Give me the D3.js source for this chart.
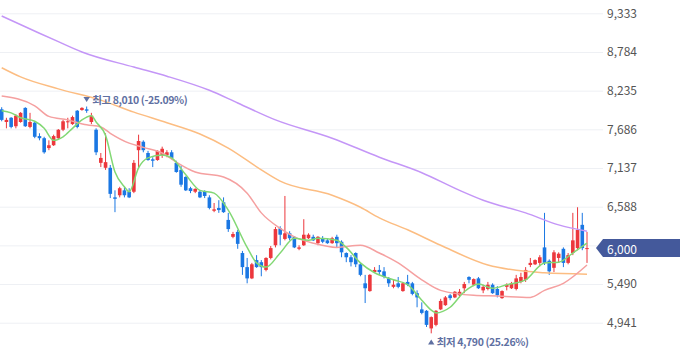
<!DOCTYPE html>
<html>
<head>
<meta charset="utf-8">
<script src="https://cdn.jsdelivr.net/npm/d3@7"></script>
<style>
html,body{margin:0;padding:0;background:#fff;}
svg{display:block;}
</style>
</head>
<body>
<svg id="chart" width="680" height="358"></svg>
<script>
// ---- data ----
const candleOpen = [7970,7790,7850,7730,7790,7990,7720,7780,7590,7560,7420,7460,7560,7680,7790,7760,7950,7960,7970,7790,
 7680,7210,7140,7140,6720,6750,6820,6800,6800,7390,7510,7350,7260,7250,7320,7320,7360,7210,7110,7010,
 6850,6800,6800,6810,6720,6530,6570,6650,6400,6160,6230,5930,5730,5570,5830,5800,5690,5860,6040,6280,
 6130,6210,6160,5990,6040,6140,6160,6070,6140,6110,6070,6160,6090,5930,5870,5930,5770,5500,5390,5660,
 5690,5670,5570,5450,5500,5390,5520,5500,5360,5130,5110,4860,4910,5130,5190,5330,5300,5330,5430,5590,
 5480,5570,5400,5420,5480,5420,5290,5450,5430,5420,5520,5550,5760,5770,5790,6010,5820,5720,5860,5990,
 5790,5930,6000,6330,5990];
const candleHigh = [8000,7850,7860,7900,7930,8000,7920,7790,7630,7580,7530,7610,7690,7820,7850,7880,7960,8000,8010,7920,
 7700,7350,7630,7180,6820,6870,6870,6850,7250,7610,7530,7380,7290,7390,7440,7390,7390,7240,7170,7020,
 6870,6850,6820,6820,6750,6640,6680,6720,6500,6230,6260,5960,5860,5790,5900,5830,5870,6030,6300,6310,
 6740,6240,6170,6040,6410,6210,6190,6170,6170,6140,6160,6190,6110,5940,5900,5940,5790,5620,5630,5730,
 5760,5730,5590,5550,5590,5520,5620,5520,5400,5230,5120,5030,5120,5280,5320,5350,5390,5420,5520,5600,
 5570,5590,5480,5520,5500,5460,5400,5500,5520,5620,5650,5730,5860,5840,5900,6500,5840,5970,5940,6010,
 5930,6500,6580,6500,6230];
const candleLow = [7800,7700,7700,7700,7780,7720,7700,7560,7530,7340,7390,7450,7550,7660,7700,7750,7700,7950,7920,7760,
 7320,7150,7110,6710,6510,6720,6720,6710,6780,7150,7360,7240,7150,7240,7280,7290,7260,7070,6870,6810,
 6780,6780,6710,6710,6550,6510,6500,6500,6230,6140,5990,5620,5500,5560,5720,5600,5670,5840,6010,6040,
 6110,6110,6000,5970,6030,6130,6100,6040,6070,6060,6060,6010,5870,5800,5740,5730,5600,5220,5380,5650,
 5620,5570,5450,5430,5430,5380,5460,5330,5160,5060,4880,4790,4890,5120,5180,5260,5290,5300,5360,5500,
 5460,5420,5360,5400,5350,5300,5280,5400,5420,5400,5500,5520,5730,5760,5740,5760,5620,5660,5790,5730,
 5770,5900,5970,5970,5790];
const candleClose = [7820,7820,7720,7880,7920,7730,7790,7580,7560,7360,7460,7590,7680,7800,7800,7860,7720,7990,7950,7880,
 7360,7280,7220,6770,6700,6850,6750,6720,7210,7520,7390,7250,7240,7380,7410,7360,7280,7080,6900,6820,
 6810,6840,6720,6740,6570,6550,6540,6510,6270,6200,6060,5730,5570,5770,5730,5730,5860,6000,6270,6190,
 6210,6140,6010,6010,6190,6190,6110,6160,6090,6070,6140,6070,5940,5870,5800,5770,5620,5430,5620,5690,
 5660,5590,5500,5480,5450,5500,5480,5350,5300,5080,4910,5020,5110,5250,5300,5290,5380,5380,5490,5550,
 5560,5430,5450,5480,5360,5330,5390,5480,5500,5570,5590,5690,5790,5830,5870,5790,5670,5940,5920,5790,
 5900,6110,6260,6000,6000];

// moving-average lines: [candle index, price]
const ma5 = [[0,7950],[2,7920],[4,7850],[7,7800],[9,7700],[11,7530],[13,7580],[15,7700],[17,7820],[19,7880],
 [20,7790],[22,7600],[24,7080],[26,6870],[27,6800],[29,7140],[31,7280],[34,7320],[36,7280],[39,7040],[42,6820],
 [45,6780],[48,6540],[52,6010],[54,5790],[56,5730],[59,5930],[62,6140],[65,6110],[67,6140],[71,6110],[73,6010],
 [76,5790],[79,5650],[83,5550],[86,5480],[89,5260],[91,5120],[92,5080],[95,5160],[98,5380],[101,5490],[104,5430],
 [107,5480],[111,5550],[115,5790],[118,5800],[121,5930],[124,6070]];
const ma20 = [[0,8160],[7,8020],[10,7870],[14,7820],[18,7750],[21,7720],[23,7630],[27,7490],[30,7430],[34,7350],
 [37,7220],[41,7080],[47,7010],[52,6780],[55,6500],[59,6280],[62,6160],[66,6070],[71,6010],[76,6040],[80,5930],
 [84,5790],[89,5550],[93,5400],[100,5330],[105,5320],[112,5300],[115,5400],[119,5500],[124,5760]];
const ma60 = [[0,8560],[4,8430],[12,8260],[21,8100],[28,7930],[35,7780],[42,7620],[48,7420],[55,7110],[59,6950],
 [70,6750],[76,6580],[80,6430],[86,6260],[93,6040],[103,5760],[111,5670],[115,5650],[124,5630]];
const ma120 = [[0,9295],[8,9050],[12,8930],[17,8784],[28,8570],[35,8440],[44,8240],[50,8060],[58,7820],[70,7560],
 [80,7290],[89,7070],[97,6820],[102,6680],[111,6500],[118,6330],[124,6240]];

const yTicks = [4941,5490,6039,6588,7137,7686,8235,8784,9333];
const currentPrice = 6000;
const highIdx = 18, highPrice = 8010, highLabel = "최고 8,010 (-25.09%)";
const lowIdx = 91, lowPrice = 4790, lowLabel = "최저 4,790 (25.26%)";

// ---- drawing ----
const svg = d3.select("#chart");
const W = 680, H = 358;
const plotRight = 603;
const x = d3.scaleLinear().domain([0, candleClose.length - 1]).range([1.7, 587]);
const y = d3.scaleLinear().domain([4941, 9333]).range([322.7, 13.3]);
const fmt = d3.format(",");
const font = "'Noto Sans CJK KR', 'Noto Sans', sans-serif";

// grid + right axis
const axis = d3.axisRight(y).tickValues(yTicks).tickSizeInner(-plotRight).tickSizeOuter(0).tickPadding(4)
  .tickFormat(d => Math.abs(y(d) - y(currentPrice)) < 12 ? "" : fmt(d));
const ag = svg.append("g").attr("transform", `translate(${plotRight},0)`).call(axis);
ag.select(".domain").remove();
ag.selectAll(".tick line").attr("stroke", "#eef0f4").attr("stroke-width", 1);
ag.selectAll(".tick text").attr("fill", "#555").style("font-family", font).style("font-size", "12px");

// candles
const idx = d3.range(candleClose.length);
const UP = "#ec373c", DOWN = "#1a77e3";
const bw = 3.6;
const cg = svg.append("g");
cg.selectAll("line.wick").data(idx).join("line")
  .attr("x1", i => x(i)).attr("x2", i => x(i))
  .attr("y1", i => y(candleHigh[i])).attr("y2", i => y(candleLow[i]))
  .attr("stroke", i => candleClose[i] >= candleOpen[i] ? UP : DOWN).attr("stroke-width", 1);
cg.selectAll("rect.body").data(idx).join("rect")
  .attr("x", i => x(i) - bw / 2).attr("width", bw)
  .attr("y", i => y(Math.max(candleOpen[i], candleClose[i])))
  .attr("height", i => Math.max(1, Math.abs(y(candleOpen[i]) - y(candleClose[i]))))
  .attr("fill", i => candleClose[i] >= candleOpen[i] ? UP : DOWN);

// moving averages
const line = d3.line().x(d => x(d[0])).y(d => y(d[1])).curve(d3.curveMonotoneX);
[[ma120, "#c496f7"], [ma60, "#fcbd82"], [ma20, "#f5a0a0"], [ma5, "#82d874"]].forEach(([data, col]) => {
  svg.append("path").datum(data).attr("d", line).attr("fill", "none")
    .attr("stroke", col).attr("stroke-width", 1.5);
});

// high / low markers
const labCol = "#5f70a2";
const hx = x(highIdx), hy = y(highPrice) - 7;
svg.append("path").attr("d", `M${hx-3.2},${hy-2.6}L${hx+3.2},${hy-2.6}L${hx},${hy+2.4}Z`).attr("fill", labCol);
svg.append("text").attr("x", hx + 5.5).attr("y", hy).attr("dominant-baseline", "central")
  .style("font-family", font).style("font-size", "10.5px").style("font-weight", "bold")
  .attr("letter-spacing", "-0.4").attr("fill", labCol).text(highLabel);
const lx = x(lowIdx), ly = y(lowPrice) + 8.5;
svg.append("path").attr("d", `M${lx-3.2},${ly+2.6}L${lx+3.2},${ly+2.6}L${lx},${ly-2.4}Z`).attr("fill", labCol);
svg.append("text").attr("x", lx + 5.5).attr("y", ly).attr("dominant-baseline", "central")
  .style("font-family", font).style("font-size", "10.5px").style("font-weight", "bold")
  .attr("letter-spacing", "-0.4").attr("fill", labCol).text(lowLabel);

// current price flag
const py = y(currentPrice);
svg.append("path").attr("d", `M596,${py}L603,${py-9}L${W},${py-9}L${W},${py+9}L603,${py+9}Z`).attr("fill", "#44599b");
svg.append("text").attr("x", 607).attr("y", py).attr("dominant-baseline", "central")
  .style("font-family", font).style("font-size", "12px").attr("fill", "#fff").text(fmt(currentPrice));
</script>
</body>
</html>
